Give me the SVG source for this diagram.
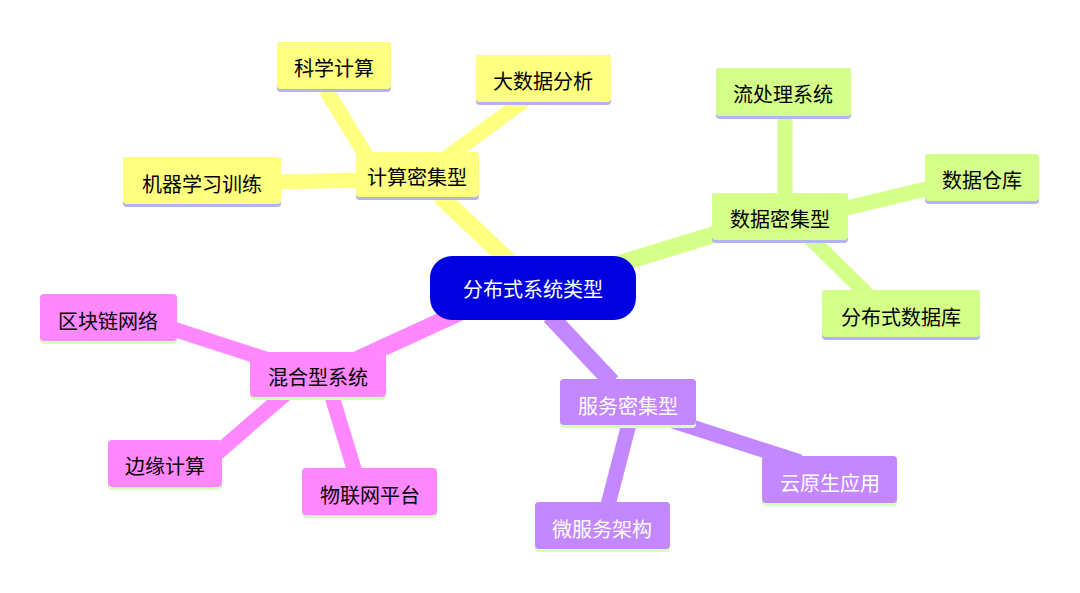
<svg xmlns="http://www.w3.org/2000/svg" width="1080" height="593" viewBox="0 0 1080 593">
<style>
text{font-family:"Noto Sans CJK SC","Noto Sans",sans-serif;font-size:20px;text-anchor:middle;dominant-baseline:central}
.y{fill:#FFFF80}.g{fill:#D4FF88}.p{fill:#FF88FF}.v{fill:#C387FF}
.bl{fill:#B4B4F0}.bg{fill:#D8FFC0}
line{stroke-linecap:butt}
.cy{stroke:#FFFF80}.cg{stroke:#D4FF88}.cp{stroke:#FF88FF}.cv{stroke:#C387FF}
</style>
<rect width="1080" height="593" fill="#fff"/>
<g id="connectors" stroke-width="15">
<line class="cy" x1="510" y1="262" x2="440" y2="196" stroke-width="17"/>
<line class="cg" x1="615" y1="265" x2="735" y2="228" stroke-width="17"/>
<line class="cv" x1="550" y1="316" x2="612" y2="382" stroke-width="17"/>
<line class="cp" x1="465" y1="310" x2="330" y2="372" stroke-width="17"/>
<line class="cy" x1="375" y1="170" x2="326" y2="90"/>
<line class="cy" x1="430" y1="170" x2="525" y2="100"/>
<line class="cy" x1="365" y1="180" x2="275" y2="182"/>
<line class="cg" x1="785" y1="200" x2="785" y2="115"/>
<line class="cg" x1="830" y1="212" x2="930" y2="188"/>
<line class="cg" x1="810" y1="238" x2="868" y2="295"/>
<line class="cv" x1="670" y1="420" x2="800" y2="462"/>
<line class="cv" x1="630" y1="420" x2="608" y2="505"/>
<line class="cp" x1="300" y1="370" x2="170" y2="328"/>
<line class="cp" x1="290" y1="390" x2="215" y2="455"/>
<line class="cp" x1="330" y1="390" x2="355" y2="472"/>
</g>
<g id="root"><rect x="430" y="256" width="206" height="64" rx="22" fill="#0000E0"/><text x="533" y="288" fill="#fff">分布式系统类型</text></g>
<g id="n-compute"><rect class="bl" x="356" y="152" width="123" height="48" rx="4"/><rect class="y" x="356" y="152" width="123" height="45" rx="4"/><text x="417" y="176">计算密集型</text></g>
<g id="n-sci"><rect class="bl" x="277" y="42" width="114" height="50" rx="4"/><rect class="y" x="277" y="42" width="114" height="47" rx="4"/><text x="334" y="67">科学计算</text></g>
<g id="n-big"><rect class="bl" x="476" y="55" width="135" height="50" rx="4"/><rect class="y" x="476" y="55" width="135" height="47" rx="4"/><text x="543" y="80">大数据分析</text></g>
<g id="n-ml"><rect class="bl" x="123" y="157" width="158" height="50" rx="4"/><rect class="y" x="123" y="157" width="158" height="47" rx="4"/><text x="202" y="183">机器学习训练</text></g>
<g id="n-data"><rect class="bl" x="712" y="193" width="136" height="50" rx="4"/><rect class="g" x="712" y="193" width="136" height="47" rx="4"/><text x="780" y="218">数据密集型</text></g>
<g id="n-stream"><rect class="bl" x="716" y="68" width="135" height="51" rx="4"/><rect class="g" x="716" y="68" width="135" height="48" rx="4"/><text x="783" y="93">流处理系统</text></g>
<g id="n-dw"><rect class="bl" x="925" y="154" width="114" height="50" rx="4"/><rect class="g" x="925" y="154" width="114" height="47" rx="4"/><text x="982" y="179">数据仓库</text></g>
<g id="n-ddb"><rect class="bl" x="822" y="290" width="158" height="50" rx="4"/><rect class="g" x="822" y="290" width="158" height="47" rx="4"/><text x="901" y="316">分布式数据库</text></g>
<g id="n-svc"><rect class="bg" x="560" y="379" width="136" height="49" rx="4"/><rect class="v" x="560" y="379" width="136" height="46" rx="4"/><text x="628" y="405" fill="#fff">服务密集型</text></g>
<g id="n-cloud"><rect class="bg" x="762" y="456" width="135" height="50" rx="4"/><rect class="v" x="762" y="456" width="135" height="47" rx="4"/><text x="830" y="482" fill="#fff">云原生应用</text></g>
<g id="n-micro"><rect class="bg" x="535" y="502" width="135" height="50" rx="4"/><rect class="v" x="535" y="502" width="135" height="47" rx="4"/><text x="602" y="528" fill="#fff">微服务架构</text></g>
<g id="n-hybrid"><rect class="bg" x="250" y="352" width="136" height="48" rx="4"/><rect class="p" x="250" y="352" width="136" height="45" rx="4"/><text x="318" y="376">混合型系统</text></g>
<g id="n-chain"><rect class="bg" x="40" y="294" width="137" height="50" rx="4"/><rect class="p" x="40" y="294" width="137" height="47" rx="4"/><text x="108" y="320">区块链网络</text></g>
<g id="n-edge"><rect class="bg" x="108" y="440" width="114" height="50" rx="4"/><rect class="p" x="108" y="440" width="114" height="47" rx="4"/><text x="165" y="465">边缘计算</text></g>
<g id="n-iot"><rect class="bg" x="302" y="468" width="135" height="50" rx="4"/><rect class="p" x="302" y="468" width="135" height="47" rx="4"/><text x="370" y="494">物联网平台</text></g>
</svg>
